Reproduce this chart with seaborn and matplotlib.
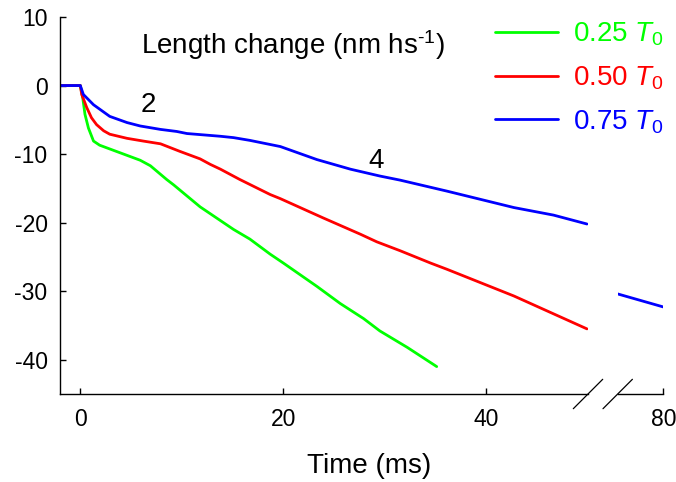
import numpy as np
import pandas as pd
import matplotlib
matplotlib.use("Agg")
import matplotlib.pyplot as plt
import seaborn as sns

# ---------------- data ----------------
t_025 = [-2, 0, 0.24, 0.46, 0.8, 1.3, 1.9, 3.9, 5.9, 6.9, 8.5, 9.2, 11.8, 15.1, 16.7, 18.7,
         20.0, 23.3, 25.6, 27.9, 29.5, 32.2, 35.1]
y_025 = [0, 0, -1.8, -4.2, -6.2, -8.1, -8.7, -9.8, -10.9, -11.7, -13.7, -14.5, -17.7, -21.0, -22.4, -24.6,
         -25.9, -29.3, -31.8, -34.0, -35.8, -38.2, -41.0]

t_050 = [-2, 0, 0.14, 0.63, 1.1, 1.6, 2.3, 2.9, 4.6, 6.2, 7.9, 9.8, 11.8, 12.8, 13.8, 15.7, 18.7,
         19.7, 23.9, 27.6, 29.2, 31.5, 34.5, 36.1, 42.7, 49.9]
y_050 = [0, 0, -1.3, -3.2, -4.7, -5.7, -6.6, -7.1, -7.7, -8.1, -8.5, -9.6, -10.7, -11.5, -12.2,
         -13.7, -15.9, -16.5, -19.3, -21.7, -22.8, -24.1, -25.9, -26.8, -30.7, -35.5]

t_075 = [-2, 0, 0.3, 1.3, 2.9, 4.6, 5.9, 7.9, 9.5, 10.5, 13.8, 15.1, 16.7, 19.7, 23.3, 26.6,
         29.5, 31.5, 36.1, 42.7, 46.6, 49.9]
y_075 = [0, 0, -1.3, -2.8, -4.5, -5.4, -5.9, -6.4, -6.7, -7.0, -7.4, -7.6, -8.0, -8.9, -10.8,
         -12.2, -13.2, -13.8, -15.4, -17.8, -18.9, -20.2]

# after the axis break (0.75 T0 only)
t_075_late = [75.55, 80]
y_075_late = [-30.4, -32.3]

labels = ["0.25 $T_0$", "0.50 $T_0$", "0.75 $T_0$"]
colors = ["#00ff00", "#ff0000", "#0000ff"]
yticks = [10, 0, -10, -20, -30, -40]
xticks_left = [0, 20, 40]
xticks_right = [80]

df = pd.concat([
    pd.DataFrame({"t": t_025, "y": y_025, "load": labels[0]}),
    pd.DataFrame({"t": t_050, "y": y_050, "load": labels[1]}),
    pd.DataFrame({"t": t_075, "y": y_075, "load": labels[2]}),
], ignore_index=True)
df_late = pd.DataFrame({"t": t_075_late, "y": y_075_late, "load": labels[2]})
palette = dict(zip(labels, colors))

# ---------------- style ----------------
sns.set_style("ticks")
plt.rcParams["font.family"] = ["Liberation Sans", "DejaVu Sans"]
plt.rcParams["mathtext.fontset"] = "custom"
plt.rcParams["mathtext.rm"] = "Liberation Sans"
plt.rcParams["mathtext.it"] = "Liberation Sans:italic"
plt.rcParams["axes.unicode_minus"] = False
plt.rcParams["text.color"] = "black"
plt.rcParams["xtick.color"] = "black"
plt.rcParams["ytick.color"] = "black"
plt.rcParams["axes.edgecolor"] = "black"

W, H = 676, 482
fig = plt.figure(figsize=(W / 100, H / 100), dpi=100)
ax1 = fig.add_axes([60 / W, 88 / H, 528 / W, 377 / H])
ax2 = fig.add_axes([617.7 / W, 88 / H, 45.6 / W, 377 / H])

lw = 2.0
sns.lineplot(data=df, x="t", y="y", hue="load", palette=palette, hue_order=labels,
             estimator=None, sort=False, lw=lw, ax=ax1)
sns.lineplot(data=df_late, x="t", y="y", hue="load", palette=palette,
             estimator=None, sort=False, lw=lw, ax=ax2, legend=False)

handles, labs = ax1.get_legend_handles_labels()
if ax1.get_legend() is not None:
    ax1.get_legend().remove()

for ax in (ax1, ax2):
    ax.set_ylim(-45, 10)
    ax.set_facecolor("none")
    for s in ("top", "right"):
        ax.spines[s].set_visible(False)
    for s in ("left", "bottom"):
        ax.spines[s].set_linewidth(1.0)
        ax.spines[s].set_color("black")
    ax.tick_params(direction="in", length=4, width=1.0, colors="black",
                   labelsize=16.5, pad=10, bottom=True, left=True,
                   top=False, right=False)
    ax.set_xlabel("")
    ax.set_ylabel("")

ax1.set_xlim(-2.0, 50.0)
ax1.set_xticks(xticks_left)
ax1.set_yticks(yticks)
ax1.tick_params(axis="y", pad=9)

ax2.set_xlim(75.55, 80)
ax2.set_xticks(xticks_right)
ax2.spines["left"].set_visible(False)
ax2.set_yticks([])
ax2.tick_params(axis="y", left=False)

# axis-break marks
d = 14.7
for ax, xa in ((ax1, 1.0), (ax2, 0.0)):
    bb = ax.get_position()
    dx = d / (bb.width * W)
    dy = d / (bb.height * H)
    ax.plot([xa - dx, xa + dx], [-dy, dy], transform=ax.transAxes,
            color="black", lw=0.9, clip_on=False)

# texts
fig.text(369.5 / W, 1 - 473 / H, "Time (ms)", ha="center", va="baseline", fontsize=20)
fig.text(141 / W, 1 - 54.3 / H, r"Length change (nm hs$^{\text{-1}}$)", ha="left",
         va="baseline", fontsize=20)
ax1.text(5.9, -3.83, "2", ha="left", va="baseline", fontsize=20)
ax1.text(28.4, -12.0, "4", ha="left", va="baseline", fontsize=20)

leg = fig.legend(handles, labs, loc="upper left",
                 bbox_to_anchor=(495 / W, 1 - 20.5 / H), bbox_transform=fig.transFigure,
                 frameon=False, borderpad=0, borderaxespad=0, fontsize=20,
                 handlelength=2.27, handletextpad=0.53, labelspacing=0.585,
                 labelcolor="linecolor")
for lh in leg.get_lines():
    lh.set_linewidth(lw)

fig.savefig("out.png", dpi=100)
